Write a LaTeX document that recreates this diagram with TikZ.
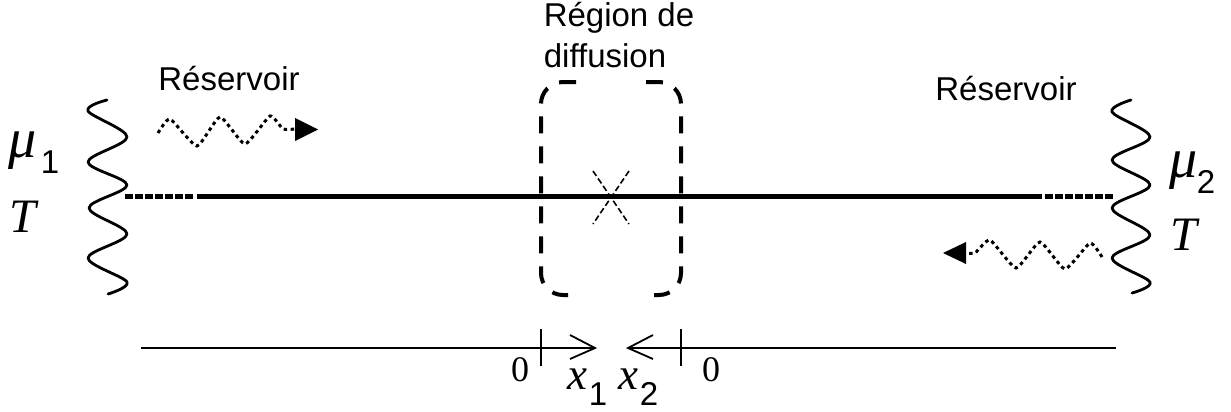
\documentclass[tikz,border=0pt]{standalone}
\usepackage{fontspec}
\setmainfont{Liberation Sans}
\newfontfamily\serifface{Liberation Serif}
\tikzset{
  lbl/.style={inner sep=0pt,anchor=base,font=\fontsize{33}{38}\selectfont},
  numlbl/.style={inner sep=0pt,anchor=base,font=\serifface\fontsize{36}{40}\selectfont},
  sym/.style={inner sep=0pt,anchor=base,font=\serifface\itshape\fontsize{48}{52}\selectfont},
  musym/.style={inner sep=0pt,anchor=base,font=\serifface\itshape\fontsize{56}{60}\selectfont},
  varx/.style={inner sep=0pt,anchor=base,font=\serifface\itshape\fontsize{45}{50}\selectfont},
  wavy/.style={line width=2.8pt,line join=round,line cap=round},
  dotwave/.style={line width=3pt,dash pattern=on 3.5pt off 3.5pt},
  wire/.style={line width=5pt},
  wiredot/.style={line width=5pt,dash pattern=on 7.5pt off 2.5pt},
  regionbox/.style={line width=4pt,dash pattern=on 17pt off 13pt},
  crossline/.style={line width=1.6pt,dash pattern=on 6pt off 3pt},
  axisline/.style={line width=1.8pt},
  tiphead/.style={line width=1.8pt,line join=miter}
}
\begin{document}
\begin{tikzpicture}[x=1pt,y=-1pt]
\useasboundingbox (0,0) rectangle (1231,412);
% reservoir walls
\draw[wavy] plot[smooth,tension=0.55] coordinates {(107,100)(88,111)(127,137)(88,162)(127,185)(89,208)(127,234)(88,258)(127,282)(108,294)};
\draw[wavy] plot[smooth,tension=0.55] coordinates {(1131,100)(1112,112)(1150,137)(1112,160)(1150,185)(1112,208)(1150,235)(1112,258)(1150,282)(1132,293)};
% main wire
\coordinate (wl0) at (125,196.5);
\coordinate (wl1) at (193,196.5);
\coordinate (wl2) at (197,196.5);
\coordinate (wr2) at (1042,196.5);
\coordinate (wr1) at (1045,196.5);
\coordinate (wr0) at (1113,196.5);
\draw[wiredot] (wl0) -- (wl1);
\draw[wire] (wl2) -- (wr2);
\draw[wiredot] (wr1) -- (wr0);
% dotted waves
\draw[dotwave] plot[smooth,tension=0.3] coordinates {(158,133)(170,119)(197,146)(220,117)(245,144)(270,116)(283,129)(295,129)};
\fill (295,118) -- (318,129.5) -- (295,141) -- cycle;
\draw[dotwave] plot[smooth,tension=0.3] coordinates {(1102,257)(1090,243)(1065,269)(1040,242)(1016,268)(990,240)(975,253)(966,253)};
\fill (966,242) -- (943,253) -- (966,264) -- cycle;
% region
\draw[regionbox] (576,82) -- (563,82) arc[start angle=270,end angle=180,radius=22] -- (541,273) arc[start angle=180,end angle=90,radius=22] -- (568,295);
\draw[regionbox] (646,82) -- (659,82) arc[start angle=270,end angle=360,radius=22] -- (681,273) arc[start angle=0,end angle=90,radius=22] -- (654,295);
% cross
\draw[crossline] (593,171) -- (629,224);
\draw[crossline] (629,171) -- (593,224);
% axis
\coordinate (al) at (141,348);
\coordinate (ali) at (595,348);
\coordinate (ari) at (628,348);
\coordinate (ar) at (1116,348);
\draw[axisline] (al) -- (ali);
\draw[axisline] (ari) -- (ar);
\draw[tiphead] (570,335) -- (ali) -- (570,359);
\draw[tiphead] (653,335) -- (ari) -- (653,359);
\draw[axisline] (541,329) -- (541,366);
\draw[axisline] (681,329) -- (681,366);
% labels
\node[lbl] (r1) at (229,90) {Réservoir};
\node[lbl] (r2) at (1006,100) {Réservoir};
\node[lbl] (d1) at (619,27) {Région de};
\node[lbl] (d2) at (605,67) {diffusion};
\node[musym] (mu1) at (23,157) {μ};
\node[lbl] (mu1s) at (50,173) {1};
\node[sym] (t1) at (23,232) {T};
\node[musym] (mu2) at (1184,177) {μ};
\node[lbl] (mu2s) at (1206,193) {2};
\node[sym] (t2) at (1184,250) {T};
\node[numlbl] (z1) at (520,381) {0};
\node[numlbl] (z2) at (711,381) {0};
\node[varx] (x1) at (577,389) {x};
\node[lbl] (x1s) at (598,405) {1};
\node[varx] (x2) at (628,389) {x};
\node[lbl] (x2s) at (649,405) {2};
\end{tikzpicture}
\end{document}
